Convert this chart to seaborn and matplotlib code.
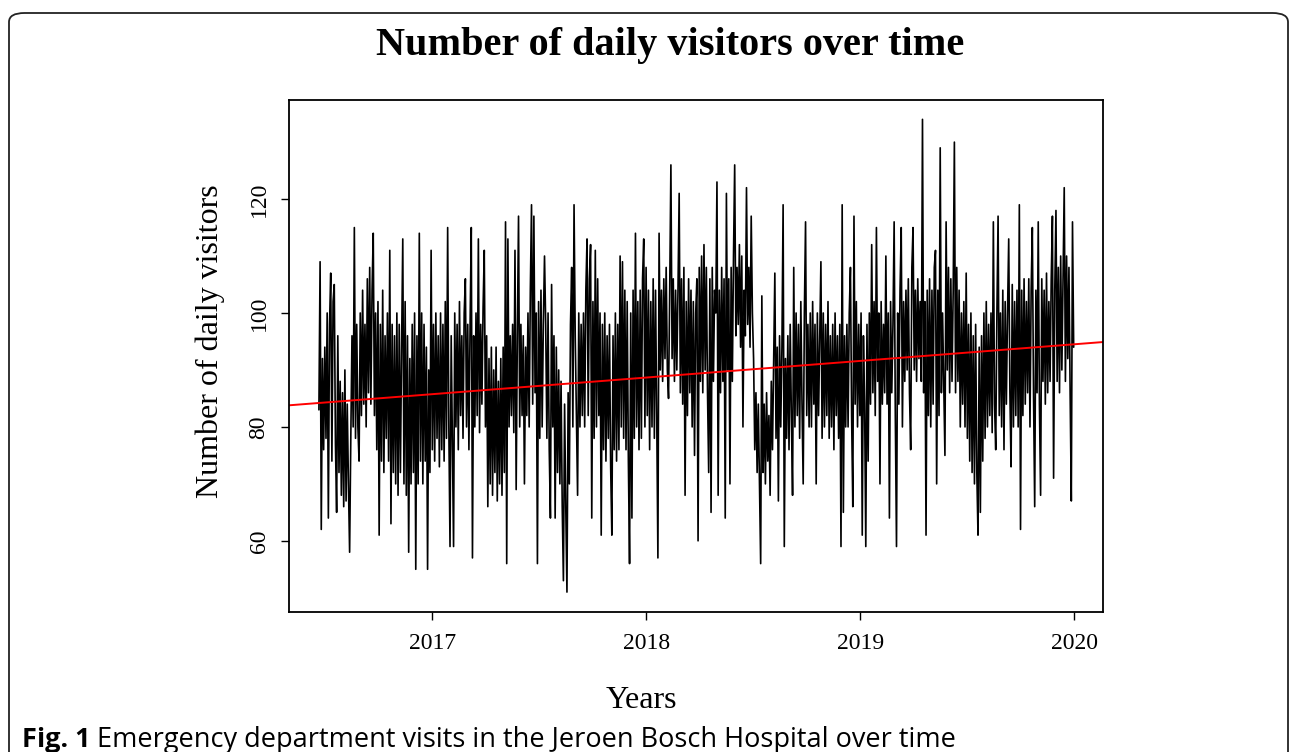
import numpy as np
import pandas as pd
import matplotlib
matplotlib.use("Agg")
import matplotlib.pyplot as plt
import matplotlib.dates as mdates
from matplotlib.patches import FancyBboxPatch
import seaborn as sns

# ---- data (roughly every 2 days) ----
start_date = "2016-06-22"
end_date = "2019-12-31"
visitors = [
    83, 109, 62, 92, 76, 94, 78, 100, 64, 98, 107, 74, 102, 105, 77, 65,
    96, 72, 88, 68, 86, 66, 90, 67, 84, 70, 58, 78, 96, 80, 115, 78,
    98, 80, 74, 100, 82, 104, 84, 98, 80, 106, 86, 108, 84, 104, 114, 82,
    100, 76, 102, 61, 98, 74, 104, 72, 96, 78, 100, 74, 111, 63, 98, 72,
    96, 70, 100, 68, 98, 72, 94, 113, 70, 102, 68, 96, 58, 92, 70, 98,
    72, 100, 55, 96, 70, 114, 74, 100, 70, 98, 74, 94, 55, 90, 72, 111,
    76, 98, 74, 100, 78, 96, 73, 100, 76, 98, 74, 102, 78, 115, 80, 59,
    96, 78, 59, 100, 80, 98, 76, 102, 82, 96, 78, 100, 106, 80, 98, 76,
    98, 115, 57, 96, 80, 100, 82, 113, 79, 98, 84, 101, 111, 80, 96, 66,
    92, 70, 94, 68, 90, 72, 94, 67, 88, 70, 92, 68, 94, 72, 116, 56,
    113, 80, 96, 82, 98, 79, 111, 69, 96, 117, 80, 98, 82, 96, 70, 94,
    82, 100, 80, 104, 119, 84, 117, 86, 100, 56, 102, 78, 104, 80, 98, 110,
    98, 78, 100, 76, 64, 105, 80, 96, 64, 94, 72, 90, 70, 88, 66, 53,
    84, 66, 51, 86, 70, 98, 108, 80, 119, 96, 82, 68, 100, 80, 98, 82,
    100, 80, 104, 113, 82, 106, 112, 64, 102, 78, 111, 80, 106, 82, 100, 61,
    98, 76, 100, 74, 96, 78, 98, 73, 61, 96, 76, 100, 74, 98, 76, 110,
    80, 109, 78, 104, 76, 102, 74, 56, 100, 64, 104, 78, 114, 80, 102, 76,
    104, 78, 106, 113, 80, 108, 82, 104, 76, 102, 80, 106, 78, 104, 82, 57,
    114, 90, 104, 88, 106, 92, 108, 90, 85, 104, 126, 92, 106, 88, 104, 90,
    104, 121, 86, 106, 84, 108, 68, 102, 82, 106, 86, 104, 80, 102, 75, 100,
    106, 60, 108, 88, 110, 86, 112, 90, 108, 86, 72, 106, 65, 108, 88, 104,
    100, 123, 68, 104, 86, 108, 88, 106, 64, 121, 90, 106, 70, 108, 88, 110,
    126, 96, 108, 98, 112, 94, 110, 80, 104, 96, 122, 98, 108, 94, 117, 100,
    92, 76, 86, 72, 84, 70, 56, 103, 72, 84, 70, 86, 74, 82, 68, 88,
    76, 92, 107, 78, 94, 67, 96, 80, 94, 119, 59, 92, 78, 96, 76, 98,
    82, 68, 108, 80, 100, 82, 98, 78, 102, 84, 70, 100, 116, 82, 98, 80,
    100, 80, 102, 84, 98, 70, 100, 82, 96, 109, 78, 100, 80, 98, 82, 102,
    78, 96, 80, 98, 76, 100, 82, 96, 78, 98, 59, 119, 65, 96, 80, 98,
    80, 100, 108, 82, 66, 117, 84, 102, 80, 98, 82, 100, 61, 96, 84, 59,
    98, 74, 100, 84, 112, 86, 102, 82, 115, 88, 100, 70, 102, 84, 98, 86,
    110, 84, 100, 64, 102, 86, 98, 116, 82, 59, 100, 84, 104, 115, 80, 102,
    88, 104, 90, 106, 86, 76, 108, 115, 90, 104, 88, 106, 92, 102, 88, 134,
    86, 102, 61, 104, 82, 106, 80, 104, 84, 108, 111, 70, 104, 82, 129, 86,
    100, 88, 75, 116, 90, 108, 86, 106, 88, 104, 130, 86, 108, 88, 104, 80,
    100, 84, 102, 80, 107, 78, 98, 74, 100, 72, 96, 70, 98, 72, 61, 94,
    65, 96, 74, 100, 78, 102, 80, 98, 82, 100, 79, 116, 84, 76, 100, 117,
    82, 100, 80, 104, 76, 102, 84, 100, 113, 86, 73, 105, 80, 102, 82, 104,
    80, 119, 62, 104, 82, 106, 84, 102, 86, 106, 80, 104, 115, 86, 66, 104,
    86, 116, 84, 68, 106, 88, 104, 84, 107, 86, 102, 88, 106, 117, 71, 104,
    118, 88, 108, 86, 110, 90, 106, 122, 88, 110, 92, 108, 86, 67, 116, 94,
]
trend_dates = ["2016-06-22", "2019-12-31"]
trend_values = [84.2, 94.5]
year_ticks = ["2017", "2018", "2019", "2020"]
y_ticks = [60, 80, 100, 120]

title = "Number of daily visitors over time"
x_label = "Years"
y_label = "Number of daily visitors"
caption_bold = "Fig. 1"
caption_text = " Emergency department visits in the Jeroen Bosch Hospital over time"

dates = pd.date_range(start_date, end_date, periods=len(visitors))
df = pd.DataFrame({"date": dates, "visitors": visitors})

sns.set_theme(style="white")
plt.rcParams["font.family"] = ["Liberation Serif", "DejaVu Serif"]

W, H = 1290, 752
fig = plt.figure(figsize=(W / 100, H / 100), dpi=100)
ax = fig.add_axes([289 / W, 1 - 612 / H, (1103 - 289) / W, (612 - 100) / H])

sns.lineplot(data=df, x="date", y="visitors", ax=ax, color="black",
             linewidth=1.2, estimator=None, sort=False)

# trend line (red), spanning the whole plot region
t0 = mdates.date2num(pd.Timestamp(trend_dates[0]))
t1 = mdates.date2num(pd.Timestamp(trend_dates[1]))
ax.axline((t0, trend_values[0]), (t1, trend_values[1]), color="#ff0000", linewidth=1.4)

xmin = mdates.date2num(pd.Timestamp("2016-05-02"))
xmax = mdates.date2num(pd.Timestamp("2020-02-19"))
ax.set_xlim(xmin, xmax)
ax.set_ylim(47.5, 137.4)

ax.set_xticks([mdates.date2num(pd.Timestamp(f"{y}-01-01")) for y in year_ticks])
ax.set_xticklabels(year_ticks)
ax.set_yticks(y_ticks)
ax.set_yticklabels([str(v) for v in y_ticks], rotation=90, va="center")

ax.tick_params(axis="both", direction="out", length=6, width=1.0, color="black",
               labelsize=17, labelcolor="black", bottom=True, left=True)
ax.tick_params(axis="x", pad=9)
ax.tick_params(axis="y", pad=8)
for s in ax.spines.values():
    s.set_visible(True)
    s.set_color("black")
    s.set_linewidth(1.3)
ax.grid(False)
ax.set_xlabel("")
ax.set_ylabel("")

fig.text(670 / W, 1 - 45 / H, title, ha="center", va="center",
         fontsize=29, fontweight="bold", color="black")
fig.text(641 / W, 1 - 700 / H, x_label, ha="center", va="center", fontsize=23, color="black")
fig.text(210 / W, 1 - 341 / H, y_label, ha="center", va="center", rotation=90,
         fontsize=23, color="black")

# rounded frame
frame = FancyBboxPatch((9 / W, -20 / H), (1288 - 9) / W, (H - 13 + 20) / H,
                       boxstyle="round,pad=0,rounding_size=0.012",
                       transform=fig.transFigure, fill=False,
                       edgecolor="#222222", linewidth=1.3, clip_on=False)
fig.patches.append(frame)

# caption
renderer = fig.canvas.get_renderer()
cb = fig.text(22 / W, 1 - 740 / H, caption_bold, ha="left", va="center",
              fontsize=19.5, fontweight="bold", family=["Open Sans", "DejaVu Sans"], color="black")
bb = cb.get_window_extent(renderer=renderer)
fig.text(bb.x1 / W, 1 - 740 / H, caption_text, ha="left", va="center",
         fontsize=19.5, family=["Open Sans", "DejaVu Sans"], color="black")

fig.savefig("out.png", dpi=100)
